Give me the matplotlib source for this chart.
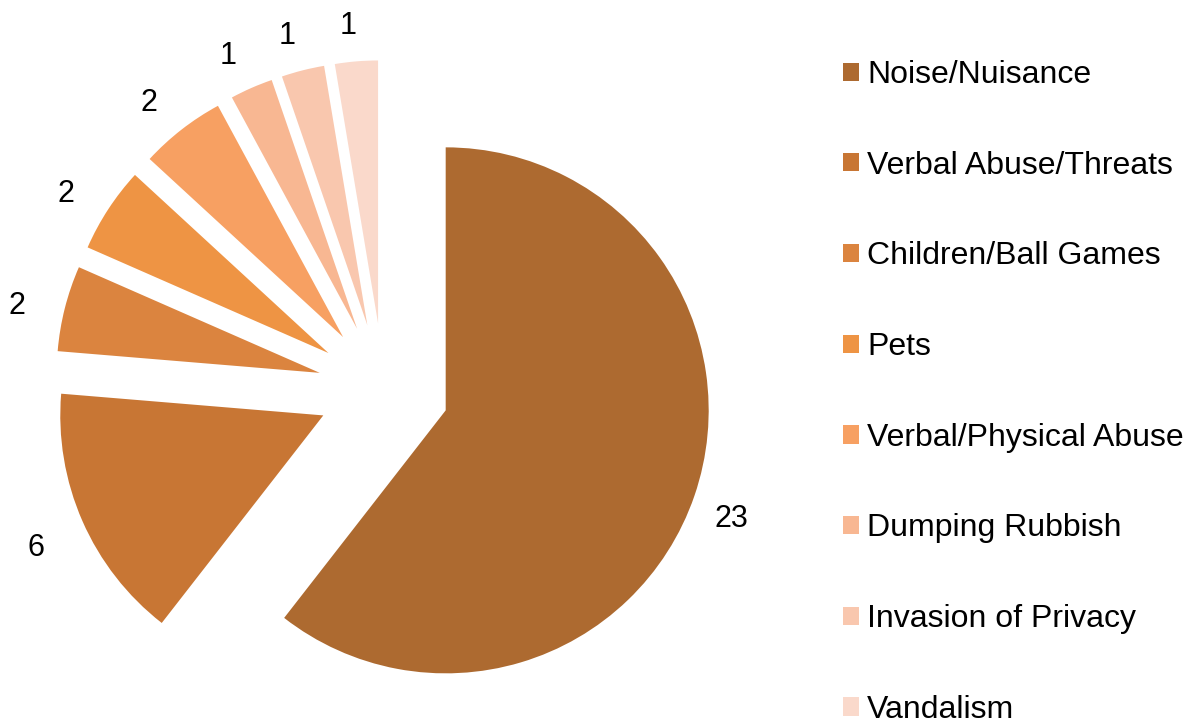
import numpy as np
import matplotlib.pyplot as plt
from matplotlib.transforms import offset_copy

plt.rcParams['font.family'] = ['Liberation Sans', 'DejaVu Sans']

# data
categories = ["Noise/Nuisance", "Verbal Abuse/Threats", "Children/Ball Games", "Pets",
              "Verbal/Physical Abuse", "Dumping Rubbish", "Invasion of Privacy", "Vandalism"]
counts = [23, 6, 2, 2, 2, 1, 1, 1]
colors = ["#AD6A30", "#C87634", "#DB843F", "#EE9444",
          "#F7A062", "#F8B792", "#F9C7AE", "#FAD9CB"]

total = sum(counts)
W, H = 1195, 723
r_px = 263.0
cx, cy = 383.5, 389.0

fig = plt.figure(figsize=(W / 100, H / 100), dpi=100)
ax = fig.add_axes([0, 0, 1, 1])

wedges, texts, autotexts = ax.pie(
    counts, colors=colors, startangle=90, counterclock=False,
    explode=[0.25] * len(counts),
    autopct=lambda p: f"{p * total / 100:.0f}", pctdistance=1.17,
    wedgeprops=dict(linewidth=0),
    textprops=dict(fontsize=22, color="black"))

ax.set_xlim(-cx / r_px, (W - cx) / r_px)
ax.set_ylim(-(H - cy) / r_px, cy / r_px)
ax.axis("off")

# nudge data labels a little down/left like the original
shift = offset_copy(ax.transData, fig=fig, x=-5, y=-9, units='dots')
for t in autotexts:
    t.set_transform(shift)

ax.legend(wedges, categories, loc="upper left", bbox_to_anchor=(843 / W, 1 - 60 / H),
          bbox_transform=fig.transFigure, frameon=False, fontsize=23,
          handlelength=0.5, handleheight=0.5, handletextpad=0.25,
          labelspacing=1.9, borderpad=0, borderaxespad=0)

fig.savefig("out.png", dpi=100)
